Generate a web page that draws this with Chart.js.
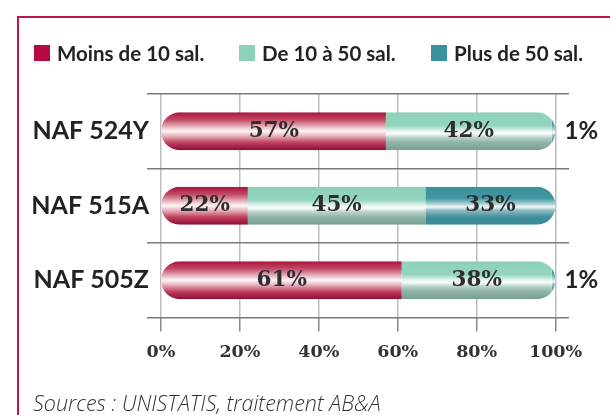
<!DOCTYPE html>
<html lang="fr">
<head>
<meta charset="utf-8" />
<title>Répartition par taille d'établissement</title>
<script src="https://cdn.jsdelivr.net/npm/chart.js@4.4.1/dist/chart.umd.min.js"></script>
<style>
	body {
		margin: 0;
		background: #fff;
	}
	.wrap {
		position: relative;
		width: 610px;
		height: 415px;
		overflow: hidden;
	}
	.frame {
		position: absolute;
		left: 17px;
		top: 16px;
		width: 700px;
		height: 500px;
		border-top: 2px solid #c4144e;
		border-left: 2px solid #c4144e;
	}
	.source {
		position: absolute;
		left: 33px;
		top: 388px;
		font: italic 300 21.5px 'Open Sans', sans-serif;
		color: #333;
	}
	canvas {
		position: absolute;
		left: 0;
		top: 0;
	}
</style>
</head>
<body>
<div class="wrap">
	<div class="frame"></div>
	<canvas id="chart" width="610" height="415"></canvas>
	<div class="source">Sources : UNISTATIS, traitement AB&amp;A</div>
</div>
<script>
const categories = ['NAF 524Y', 'NAF 515A', 'NAF 505Z']
const moins10 = [57, 22, 61]
const de10a50 = [42, 45, 38]
const plus50 = [1, 33, 1]
const seriesNames = ['Moins de 10 sal.', 'De 10 à 50 sal.', 'Plus de 50 sal.']
const xTicks = [0, 20, 40, 60, 80, 100]

const legendColors = ['#b70a44', '#8ed1b9', '#3b919c']
const legendX = [34, 239, 431]

// stops of the "tube" shading, top to bottom
const redStops = [
	[0, '#a8133d'],
	[0.2, '#c24a66'],
	[0.38, '#e6b5bf'],
	[0.5, '#fdf6f7'],
	[0.62, '#e7b3be'],
	[0.8, '#bf3f5e'],
	[1, '#8e0b33'],
]
const mintStops = [
	[0, '#8ed1b9'],
	[0.35, '#93d4be'],
	[0.49, '#e2f3ed'],
	[0.56, '#fafdfc'],
	[0.66, '#bcd3ca'],
	[0.8, '#8fb3a4'],
	[1, '#76a090'],
]
const tealStops = [
	[0, '#3b929d'],
	[0.3, '#3f97a2'],
	[0.45, '#a9cfd4'],
	[0.53, '#f4fafa'],
	[0.62, '#8fbcc2'],
	[0.8, '#3f8f99'],
	[1, '#378994'],
]

const barShare = 0.51

const tubeFill = (stops, flat) => context => {
	const chart = context.chart
	if (context.type !== 'data' || !chart.chartArea) return flat
	const y = chart.scales.y
	const mid = y.getPixelForValue(context.dataIndex)
	const half = (y.getPixelForValue(1) - y.getPixelForValue(0)) * barShare / 2
	const g = chart.ctx.createLinearGradient(0, mid - half, 0, mid + half)
	stops.forEach(([o, c]) => g.addColorStop(o, c))
	return g
}

// clip every stack into a pill
const pillClip = {
	id: 'pillClip',
	beforeDatasetsDraw(chart) {
		const ctx = chart.ctx
		const x = chart.scales.x
		const bars = chart.getDatasetMeta(0).data
		ctx.save()
		ctx.beginPath()
		bars.forEach((bar, i) => {
			const total = chart.data.datasets.reduce((s, ds) => s + ds.data[i], 0)
			const x0 = x.getPixelForValue(0)
			const x1 = x.getPixelForValue(total)
			const h = bar.height
			ctx.roundRect(x0, bar.y - h / 2, x1 - x0, h, h / 2)
		})
		ctx.clip()
	},
	afterDatasetsDraw(chart) {
		chart.ctx.restore()
	},
}

const valueLabels = {
	id: 'valueLabels',
	afterDatasetsDraw(chart) {
		const ctx = chart.ctx
		ctx.save()
		ctx.textBaseline = 'middle'
		chart.data.datasets.forEach((ds, d) => {
			chart.getDatasetMeta(d).data.forEach((bar, i) => {
				const v = ds.data[i]
				if (v >= 5) {
					ctx.font = 'bold 21.5px "DejaVu Serif"'
					ctx.fillStyle = '#2e2e2e'
					ctx.textAlign = 'center'
					ctx.fillText(v + '%', (bar.x + bar.base) / 2, bar.y)
				} else {
					ctx.font = 'bold 24px Lato'
					ctx.fillStyle = '#222'
					ctx.textAlign = 'left'
					ctx.fillText(v + '%', chart.scales.x.getPixelForValue(100) + 9, bar.y)
				}
			})
		})
		ctx.restore()
	},
}

const legendRow = {
	id: 'legendRow',
	afterDraw(chart) {
		const ctx = chart.ctx
		ctx.save()
		ctx.font = 'bold 20.5px Lato'
		ctx.textBaseline = 'middle'
		ctx.textAlign = 'left'
		chart.data.datasets.forEach((ds, i) => {
			ctx.fillStyle = legendColors[i]
			ctx.fillRect(legendX[i], 45, 16, 16)
			ctx.fillStyle = '#222'
			ctx.fillText(ds.label, legendX[i] + 23, 54)
		})
		ctx.restore()
	},
}

const chartData = {
	labels: categories,
	datasets: [
		{
			label: seriesNames[0],
			data: moins10,
			backgroundColor: tubeFill(redStops, legendColors[0]),
		},
		{
			label: seriesNames[1],
			data: de10a50,
			backgroundColor: tubeFill(mintStops, legendColors[1]),
		},
		{
			label: seriesNames[2],
			data: plus50,
			backgroundColor: tubeFill(tealStops, legendColors[2]),
		},
	],
}

const config = {
	type: 'bar',
	data: chartData,
	options: {
		indexAxis: 'y',
		responsive: false,
		animation: false,
		events: [],
		layout: {
			padding: { top: 94, right: 41, bottom: 0, left: 0 },
		},
		datasets: {
			bar: {
				categoryPercentage: barShare,
				barPercentage: 1,
				borderWidth: 0,
			},
		},
		plugins: {
			legend: { display: false },
			tooltip: { enabled: false },
		},
		scales: {
			x: {
				stacked: true,
				min: 0,
				max: 103.4,
				afterBuildTicks: scale => {
					scale.ticks = xTicks.map(v => ({ value: v }))
				},
				afterFit: scale => {
					scale.height = 97.5
				},
				border: { display: false },
				grid: {
					color: '#bdbdbd',
					lineWidth: 1.5,
					tickColor: '#8a8a8a',
					tickLength: 14,
				},
				ticks: {
					padding: 10,
					color: '#333',
					font: { family: 'DejaVu Serif', weight: 'bold', size: 17.5 },
					callback: v => v + '%',
				},
			},
			y: {
				stacked: true,
				afterFit: scale => {
					scale.width = 161
				},
				border: { display: false },
				grid: {
					offset: true,
					color: '#7a7a7a',
					lineWidth: 1.5,
					tickLength: 14,
				},
				ticks: {
					padding: -2,
					color: '#222',
					font: { family: 'Lato', weight: 'bold', size: 25 },
				},
			},
		},
	},
	plugins: [pillClip, valueLabels, legendRow],
}

const canvaRef = document.querySelector('#chart')

const tubeChart = new Chart(canvaRef, config)
</script>
</body>
</html>
